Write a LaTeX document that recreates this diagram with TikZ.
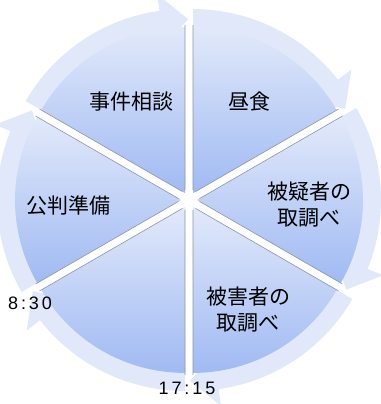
\documentclass[tikz,border=0pt]{standalone}
\usepackage{fontspec}
\newfontfamily\jp{Noto Sans CJK JP}
\newfontfamily\numfont[LetterSpace=16]{Liberation Sans}
\definecolor{bandc}{RGB}{225,232,250}
\definecolor{wtop}{RGB}{226,233,250}
\definecolor{wbot}{RGB}{160,186,243}
\definecolor{edgec}{RGB}{140,150,168}
\tikzset{
 band/.style={fill=bandc, draw=none},
 wedge/.style={top color=wtop, bottom color=wbot, draw=none},
 edgeline/.style={draw=edgec, line width=0.6pt},
 jplabel/.style={font=\jp\fontsize{21}{26}\selectfont, align=center, text=black, inner sep=0pt},
 numlabel/.style={font=\numfont\fontsize{18}{20}\selectfont, text=black, inner sep=0pt},
}
\begin{document}
\begin{tikzpicture}[x=1pt,y=1pt]
\useasboundingbox (0,0) rectangle (380,404);
% outer arrow bands
\foreach \a in {30,90,150,210,270,330}{
  \pgfmathsetmacro\b{\a+30}
  \pgfmathsetmacro\e{\a+60}
  \pgfmathsetmacro\h{\a+8}
  \pgfmathsetmacro\t{\a-1}
  \begin{scope}[shift={(189,204)}, shift={(\b:8)}]
   \fill[band] (\e:158) arc[start angle=\e, end angle=\h, radius=158]
     -- (\h:148) -- (\t:174) -- (\h:201) -- (\h:184)
     arc[start angle=\h, end angle=\e, radius=184] -- cycle;
  \end{scope}
}
% pie wedges
\foreach \a in {30,90,150,210,270,330}{
  \pgfmathsetmacro\b{\a+30}
  \pgfmathsetmacro\e{\a+60}
  \begin{scope}[shift={(189,204)}, shift={(\b:8)}]
   \path[wedge] (0,0) -- (\a:166) arc[start angle=\a, end angle=\e, radius=166] -- cycle;
   \draw[edgeline] (\a:3) -- (\a:168) (\e:3) -- (\e:168);
  \end{scope}
}
% labels
\node[jplabel] (t1) at (131,302) {事件相談};
\node[jplabel] (t2) at (249,302) {昼食};
\node[jplabel] (t3) at (69,198) {公判準備};
\node[jplabel] (t4) at (309,199) {被疑者の\\取調べ};
\node[jplabel] (t5) at (248,94) {被害者の\\取調べ};
\node[numlabel] (n1) at (30,101) {8:30};
\node[numlabel] (n2) at (187,16) {17:15};
\end{tikzpicture}
\end{document}
